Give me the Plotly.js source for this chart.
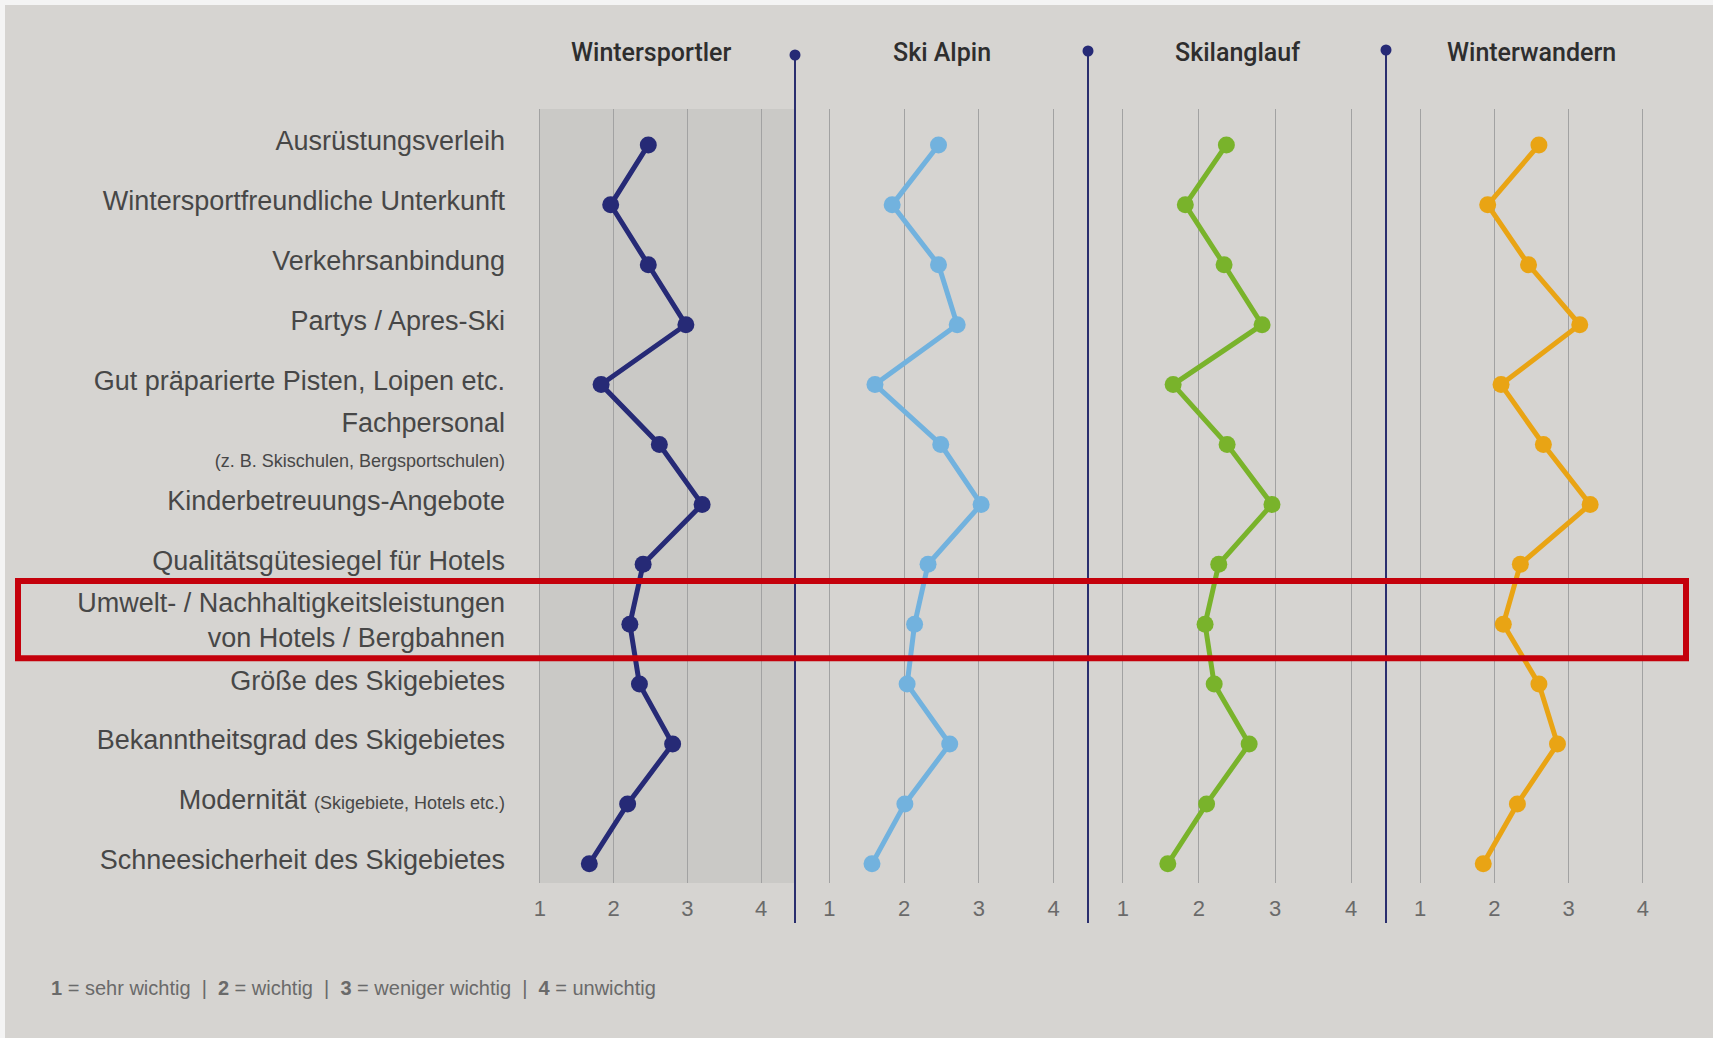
<!DOCTYPE html>
<html>
<head>
<meta charset="utf-8">
<script src="https://cdn.plot.ly/plotly-3.0.1.min.js"></script>
<style>html,body{margin:0;padding:0;background:#d6d4d1;}#chart{width:1713px;height:1038px;}</style>
</head>
<body>
<div id="chart"></div>
<script>
// ---- data ----
const categories = [
  "Ausrüstungsverleih",
  "Wintersportfreundliche Unterkunft",
  "Verkehrsanbindung",
  "Partys / Apres-Ski",
  "Gut präparierte Pisten, Loipen etc.",
  "Fachpersonal<br><span style='font-size:18px'>(z. B. Skischulen, Bergsportschulen)</span>",
  "Kinderbetreuungs-Angebote",
  "Qualitätsgütesiegel für Hotels",
  "Umwelt- / Nachhaltigkeitsleistungen<br>von Hotels / Bergbahnen",
  "Größe des Skigebietes",
  "Bekanntheitsgrad des Skigebietes",
  "Modernität <span style='font-size:18px'>(Skigebiete, Hotels etc.)</span>",
  "Schneesicherheit des Skigebietes"
];
const groups = ["Wintersportler", "Ski Alpin", "Skilanglauf", "Winterwandern"];
const wintersportler = [2.47, 1.96, 2.47, 2.98, 1.83, 2.62, 3.20, 2.40, 2.22, 2.35, 2.80, 2.19, 1.67];
const skiAlpin       = [2.46, 1.84, 2.46, 2.71, 1.61, 2.49, 3.03, 2.32, 2.14, 2.04, 2.61, 2.01, 1.57];
const skilanglauf    = [2.36, 1.82, 2.33, 2.83, 1.66, 2.37, 2.96, 2.26, 2.08, 2.20, 2.66, 2.10, 1.59];
const winterwandern  = [2.60, 1.91, 2.46, 3.15, 2.09, 2.66, 3.29, 2.35, 2.12, 2.60, 2.85, 2.31, 1.85];
const scaleTicks = [1, 2, 3, 4];
const scaleLabels = ["1", "2", "3", "4"];
const footerText = "<b>1</b> = sehr wichtig  |  <b>2</b> = wichtig  |  <b>3</b> = weniger wichtig  |  <b>4</b> = unwichtig";
const highlighted = 8; // Umwelt- / Nachhaltigkeitsleistungen

// ---- styling ----
const W = 1713, H = 1038;
const colors = ["#262a76", "#72b2de", "#79b32b", "#e9a414"];
const series = [wintersportler, skiAlpin, skilanglauf, winterwandern];
const pxDomains = [[506, 795], [795, 1088], [1088, 1386], [1386, 1677]];
const yIdx = categories.map((c, i) => i);
const yDomain = [1 - 883 / H, 1 - 109 / H];
const font = "'Liberation Sans', Arial, sans-serif";

const traces = series.map((vals, k) => ({
  type: "scatter", mode: "lines+markers",
  x: vals, y: yIdx,
  xaxis: k === 0 ? "x" : "x" + (k + 1), yaxis: "y",
  line: {color: colors[k], width: 5},
  marker: {color: colors[k], size: 17},
  name: groups[k], hoverinfo: "x+y"
}));

const layout = {
  width: W, height: H,
  margin: {l: 0, r: 0, t: 0, b: 0},
  paper_bgcolor: "#d6d4d1", plot_bgcolor: "rgba(0,0,0,0)",
  showlegend: false,
  font: {family: font, color: "#454545"},
  yaxis: {
    domain: yDomain, range: [12.32, -0.6], anchor: "x",
    tickvals: yIdx, ticktext: categories,
    showgrid: false, zeroline: false, showline: false,
    ticks: "", ticklen: 0,
    ticklabelshift: 4,
    tickfont: {family: font, size: 27, color: "#474747"}
  },
  shapes: [], annotations: []
};

pxDomains.forEach((d, k) => {
  const key = k === 0 ? "xaxis" : "xaxis" + (k + 1);
  layout[key] = {
    domain: [d[0] / W, d[1] / W], range: [0.54, 4.46], anchor: "y",
    tickvals: scaleTicks, ticktext: scaleLabels,
    showgrid: true, gridcolor: "#a2a2a2", gridwidth: 1,
    zeroline: false, showline: false,
    ticks: "outside", ticklen: 6, tickcolor: "rgba(0,0,0,0)",
    tickfont: {family: font, size: 22, color: "#6a6a6a"}
  };
  layout.annotations.push({
    xref: k === 0 ? "x" : "x" + (k + 1), yref: "paper",
    x: 2.5, y: 1 - 52 / H, text: groups[k],
    showarrow: false, xanchor: "center", yanchor: "middle",
    font: {family: "Roboto, 'Liberation Sans', sans-serif", size: 25, weight: 500, color: "#2e2e2e"}
  });
});

// shaded background of first panel
layout.shapes.push({
  type: "rect", xref: "x", yref: "paper", x0: 1, x1: 4.46,
  y0: yDomain[0], y1: yDomain[1],
  fillcolor: "#cac9c6", line: {width: 0}, layer: "below"
});
// divider lines with dots
[795, 1088, 1386].forEach((px, i) => {
  const topY = [55, 51, 50][i];
  layout.shapes.push({
    type: "line", xref: "paper", yref: "paper",
    x0: px / W, x1: px / W, y0: 1 - 923 / H, y1: 1 - topY / H,
    line: {color: "#2a2e6e", width: 2}
  });
  layout.shapes.push({
    type: "circle", xref: "paper", yref: "paper",
    x0: (px - 5.5) / W, x1: (px + 5.5) / W, y0: 1 - (topY + 5.5) / H, y1: 1 - (topY - 5.5) / H,
    fillcolor: "#262a76", line: {width: 0}
  });
});
// highlight box around one row
layout.shapes.push({
  type: "rect", xref: "paper", yref: "y",
  x0: 18 / W, x1: 1686 / W, y0: highlighted - 0.72, y1: highlighted + 0.57,
  line: {color: "#c4000b", width: 6}, fillcolor: "rgba(0,0,0,0)"
});
// light photo edges
layout.shapes.push({type: "rect", xref: "paper", yref: "paper", x0: 0, x1: 1, y0: 1 - 5 / H, y1: 1, fillcolor: "#f4f4f4", line: {width: 0}, layer: "below"});
layout.shapes.push({type: "rect", xref: "paper", yref: "paper", x0: 0, x1: 5 / W, y0: 0, y1: 1, fillcolor: "#f4f4f4", line: {width: 0}, layer: "below"});

layout.annotations.push({
  xref: "paper", yref: "paper", x: 49 / W, y: 1 - 988 / H,
  xanchor: "left", yanchor: "middle", showarrow: false,
  text: footerText, font: {family: font, size: 20, color: "#6a6a6a"}
});

Plotly.newPlot("chart", traces, layout, {displayModeBar: false, staticPlot: true});
</script>
</body>
</html>
